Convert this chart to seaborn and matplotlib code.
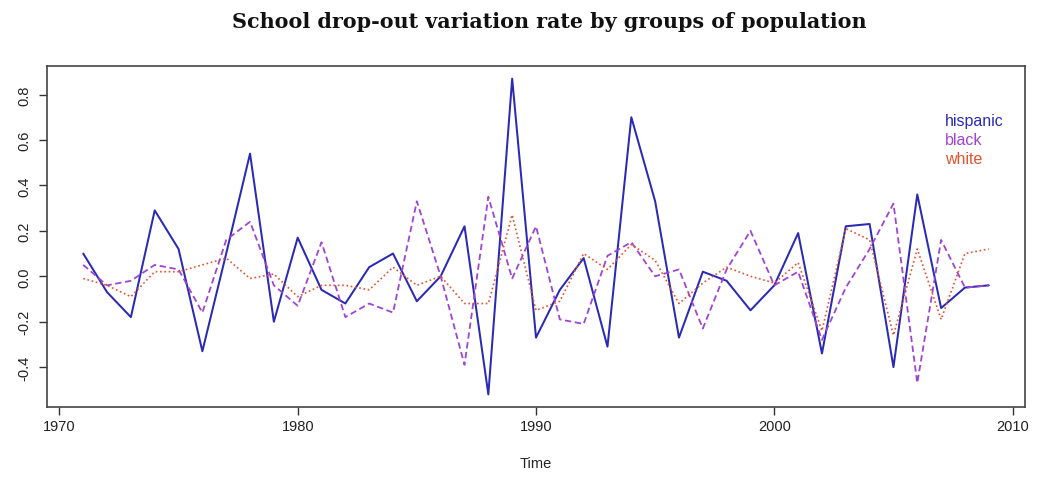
import matplotlib
matplotlib.use("Agg")
import matplotlib.pyplot as plt
import numpy as np
import pandas as pd
import seaborn as sns

# Data
years = list(range(1971, 2010))
hispanic = [0.10, -0.07, -0.18, 0.29, 0.12, -0.33, 0.10, 0.54, -0.20, 0.17,
            -0.06, -0.12, 0.04, 0.10, -0.11, 0.00, 0.22, -0.52, 0.87, -0.27,
            -0.06, 0.08, -0.31, 0.70, 0.33, -0.27, 0.02, -0.02, -0.15, -0.04,
            0.19, -0.34, 0.22, 0.23, -0.40, 0.36, -0.14, -0.05, -0.04]
black = [0.05, -0.04, -0.02, 0.05, 0.03, -0.16, 0.16, 0.24, -0.04, -0.13,
         0.15, -0.18, -0.12, -0.16, 0.33, 0.00, -0.39, 0.35, -0.01, 0.22,
         -0.19, -0.21, 0.09, 0.15, 0.00, 0.03, -0.23, 0.03, 0.20, -0.04,
         0.02, -0.28, -0.05, 0.12, 0.32, -0.47, 0.16, -0.05, -0.04]
white = [-0.01, -0.04, -0.09, 0.02, 0.02, 0.05, 0.08, -0.01, 0.01, -0.09,
         -0.04, -0.04, -0.06, 0.04, -0.04, 0.00, -0.12, -0.12, 0.27, -0.15,
         -0.11, 0.10, 0.03, 0.14, 0.07, -0.12, -0.03, 0.04, 0.00, -0.03,
         0.06, -0.24, 0.21, 0.16, -0.26, 0.12, -0.19, 0.10, 0.12]
groups = ['hispanic', 'black', 'white']
colors = {'hispanic': '#2a2ab4', 'black': '#a044d4', 'white': '#e2532e'}

df = pd.DataFrame({'Time': years, 'hispanic': hispanic,
                   'black': black, 'white': white})
df_long = df.melt(id_vars='Time', var_name='group', value_name='rate')

sns.set_theme(style="ticks")
plt.rcParams['font.family'] = ['Liberation Sans', 'DejaVu Sans']

fig = plt.figure(figsize=(10.37, 4.85), dpi=100)
ax = fig.add_axes([47 / 1037, 1 - 408 / 485, (1025 - 47) / 1037, (408 - 67) / 485])

styles = {'hispanic': dict(lw=1.45, ls='-'),
          'black': dict(lw=1.3, ls=(0, (3.5, 2))),
          'white': dict(lw=1.2, ls=(0, (1, 1.6)))}
for g in groups:
    sub = df_long[df_long['group'] == g]
    sns.lineplot(data=sub, x='Time', y='rate', color=colors[g], ax=ax,
                 label=g, linewidth=styles[g]['lw'], linestyle=styles[g]['ls'])

ax.margins(x=0.04, y=0.04)
ax.set_xticks([1970, 1980, 1990, 2000, 2010])
ax.set_yticks([-0.4, -0.2, 0.0, 0.2, 0.4, 0.6, 0.8])
ax.set_yticklabels(['-0.4', '-0.2', '0.0', '0.2', '0.4', '0.6', '0.8'],
                   rotation=90, va='center')
ax.tick_params(direction='out', length=6, width=1, colors='#333333',
               labelsize=10.5, labelcolor='#222222', pad=3)
ax.tick_params(axis='y', pad=5)
for s in ax.spines.values():
    s.set_color('#444444')
    s.set_linewidth(1.2)
ax.set_xlabel('Time', fontsize=10.5, labelpad=16, color='#222222')
ax.set_ylabel('')

leg = ax.legend(loc='upper left', bbox_to_anchor=(0.912, 0.882), frameon=False,
                handlelength=0, handletextpad=0, labelspacing=0.25,
                fontsize=11.5, labelcolor='linecolor', borderaxespad=0)
for h in leg.legend_handles:
    h.set_visible(False)

fig.suptitle('School drop-out variation rate by groups of population',
             x=0.530, y=0.975, fontsize=14.9, fontweight='bold',
             family='DejaVu Serif', color='#111111')

fig.savefig('out.png', dpi=100)
